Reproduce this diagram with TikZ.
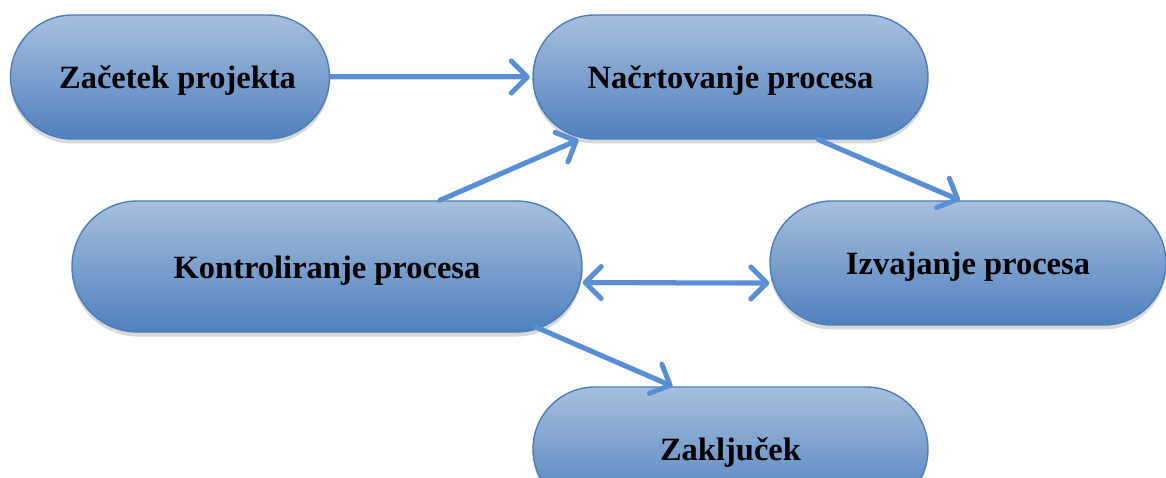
\documentclass[tikz,border=0pt]{standalone}
\usepackage{fontspec}
\setmainfont{Liberation Serif}
\usepackage{tikz}
\usetikzlibrary{positioning, shapes.misc, shadows, arrows.meta}
\definecolor{box-top}{RGB}{167, 191, 222}
\definecolor{box-bottom}{RGB}{79, 129, 189}
\definecolor{box-line}{RGB}{74, 126, 187}
\definecolor{arr-blue}{RGB}{88, 142, 213}

\begin{document}
\begin{tikzpicture}
				\tikzset{phase/.style={rounded rectangle, draw=box-line, line width=0.8pt, top color=box-top, bottom color=box-bottom, minimum height=2.48cm, inner sep=0pt, text height=18pt, text depth=4.5pt, font=\fontsize{18.5}{22}\selectfont\bfseries, drop shadow={shadow xshift=0pt, shadow yshift=-0.09cm, opacity=0.25, fill=black!60}}}
				\tikzset{arr/.style={-{Straight Barb[length=0.32cm, width=0.64cm, line cap=round, line join=round]}, draw=arr-blue, line width=0.1cm, line cap=round, preaction={draw=black!15, transform canvas={yshift=-0.05cm}}}}
				\tikzset{darr/.style={arr, {Straight Barb[length=0.32cm, width=0.64cm, line cap=round, line join=round]}-{Straight Barb[length=0.32cm, width=0.64cm, line cap=round, line join=round]}}}
				
				\clip (0,0) rectangle (23.32,-9.56);
				\fill[white] (0,0) rectangle (23.32,-9.56);
				
				\node[phase, minimum width=6.38cm] at (3.40,-1.54) (zacetek) {\hspace*{0.3cm}Začetek projekta};
				\node[phase, minimum width=7.90cm] at (14.61,-1.54) (nacrt) {Načrtovanje procesa};
				\node[phase, minimum width=10.2cm, minimum height=2.62cm] at (6.54,-5.33) (kontrola) {Kontroliranje procesa};
				\node[phase, minimum width=7.92cm] at (19.36,-5.26) (izvaj) {Izvajanje procesa};
				\node[phase, minimum width=7.90cm] at (14.61,-8.98) (zaklj) {Zaključek};
				
				\draw[arr] (zacetek.east) -- ([xshift=-0.05cm]nacrt.west);
				\draw[arr] ([xshift=2.26cm]kontrola.north) -- ([xshift=-3.04cm]nacrt.south);
				\draw[arr] ([xshift=1.76cm]nacrt.south) -- ([xshift=-0.16cm]izvaj.north);
				\draw[darr] ([yshift=-0.32cm]kontrola.east) -- ([yshift=-0.40cm]izvaj.west);
				\draw[arr] ([xshift=4.16cm, yshift=0.12cm]kontrola.south) -- ([xshift=-1.16cm]zaklj.north);
			\end{tikzpicture}
\end{document}
